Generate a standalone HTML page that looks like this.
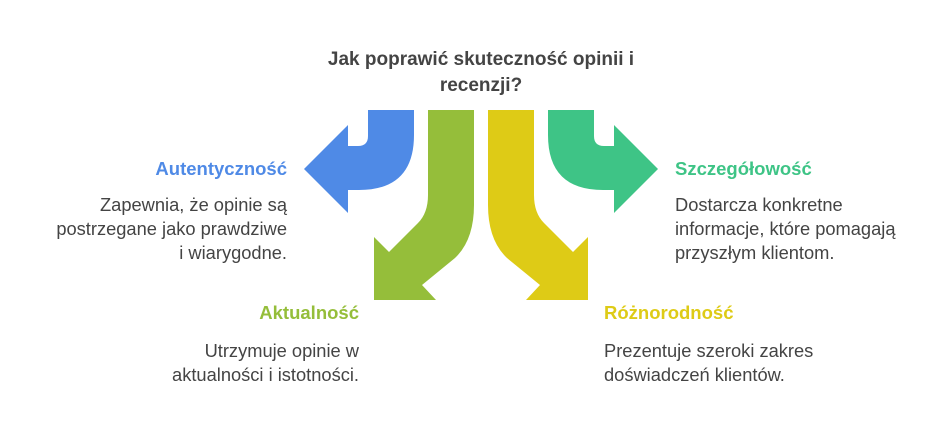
<!DOCTYPE html>
<html><head><meta charset="utf-8"><style>
html,body{margin:0;padding:0;background:#fff;}
body{width:950px;height:434px;position:relative;overflow:hidden;font-family:"Liberation Sans",sans-serif;}
.t{position:absolute;white-space:nowrap;}
.h{font-weight:bold;font-size:18.5px;}
.b{font-size:18.3px;color:#444;line-height:24px;}
.r{text-align:right;}
</style></head><body>
<svg width="950" height="434" style="position:absolute;left:0;top:0">
<path fill="#4F8AE6" d="M368,110 L414,110 L414,135 Q414,190 359,190 L348,190 L348,213 L304,169 L348,125 L348,146 L358,146 Q368,146 368,136 Z"/>
<path fill="#3EC486" d="M594,110 L548,110 L548,135 Q548,190 603,190 L614,190 L614,213 L658,169 L614,125 L614,146 L604,146 Q594,146 594,136 Z"/>
<path fill="#95BE3A" d="M428,110 L474,110 L474,205 Q474,240 455,258 L422,285 L436,300 L374,300 L374,237 L389,252 L418,223 Q428,213 428,195 Z"/>
<path fill="#DECB16" d="M534,110 L488,110 L488,205 Q488,240 507,258 L540,285 L526,300 L588,300 L588,237 L573,252 L544,223 Q534,213 534,195 Z"/>
</svg>
<div class="t" style="left:231px;width:500px;text-align:center;top:47px;color:#444;line-height:26px;font-weight:bold;font-size:19px;">Jak poprawić skuteczność opinii i<br>recenzji?</div>
<div class="t h r" style="right:663px;top:158px;color:#4F8AE6;">Autentyczność</div>
<div class="t b r" style="right:663px;top:193px;">Zapewnia, że opinie są<br>postrzegane jako prawdziwe<br>i wiarygodne.</div>
<div class="t h" style="left:675px;top:158px;color:#3EC486;">Szczegółowość</div>
<div class="t b" style="left:675px;top:193px;">Dostarcza konkretne<br>informacje, które pomagają<br>przyszłym klientom.</div>
<div class="t h r" style="right:591px;top:302px;color:#95BE3A;">Aktualność</div>
<div class="t b r" style="right:591px;top:339px;">Utrzymuje opinie w<br>aktualności i istotności.</div>
<div class="t h" style="left:604px;top:302px;color:#DECB16;">Różnorodność</div>
<div class="t b" style="left:604px;top:339px;">Prezentuje szeroki zakres<br>doświadczeń klientów.</div>
</body></html>
